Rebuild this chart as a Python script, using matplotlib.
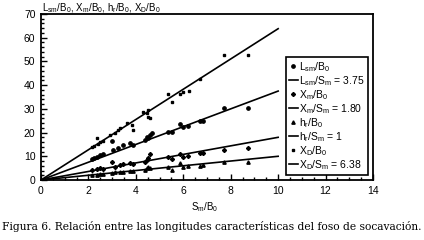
import matplotlib
matplotlib.use("Agg")
import matplotlib.pyplot as plt
import numpy as np
from matplotlib.ticker import MultipleLocator
from matplotlib.lines import Line2D

# Data
xd_x = [2.14, 2.25, 2.35, 2.40, 2.49, 2.63, 2.91, 3.12, 3.26, 3.33, 3.61, 3.83, 3.89,
        4.31, 4.46, 4.53, 4.50, 4.60, 5.37, 5.53, 5.86, 6.00, 6.23, 6.71, 7.72, 8.72]
xd_y = [14.0, 14.2, 17.6, 15.0, 16.2, 16.6, 19.0, 19.7, 21.1, 21.8, 23.9, 23.2, 21.1,
        28.8, 28.1, 29.5, 26.7, 26.0, 36.3, 33.0, 36.3, 37.1, 37.4, 42.7, 52.8, 52.8]
lsm_x = [2.14, 2.25, 2.35, 2.49, 2.63, 2.98, 3.05, 3.26, 3.47, 3.75, 3.89, 4.39, 4.46,
         4.53, 4.60, 4.67, 5.37, 5.51, 5.86, 6.00, 6.21, 6.71, 6.85, 7.72, 8.72]
lsm_y = [8.8, 9.1, 9.8, 10.5, 10.8, 16.6, 12.7, 13.4, 14.8, 15.5, 14.8, 16.9, 18.3,
         17.6, 19.0, 19.7, 20.4, 20.1, 23.6, 22.2, 22.8, 24.9, 25.0, 30.2, 30.2]
xm_x = [2.14, 2.35, 2.49, 2.63, 2.98, 3.12, 3.33, 3.47, 3.75, 3.89, 4.39, 4.46, 4.53,
        4.60, 5.37, 5.51, 5.86, 6.00, 6.21, 6.71, 6.85, 7.72, 8.72]
xm_y = [4.2, 4.5, 4.9, 4.6, 7.7, 5.6, 6.3, 6.6, 7.0, 6.8, 7.7, 8.4, 9.1,
        11.0, 9.8, 8.7, 10.8, 9.8, 10.1, 11.5, 11.5, 12.7, 13.6]
hr_x = [2.14, 2.35, 2.49, 2.63, 2.98, 3.12, 3.33, 3.47, 3.75, 3.89, 4.39, 4.46, 4.53,
        4.60, 5.37, 5.51, 5.86, 6.00, 6.21, 6.71, 6.85, 7.72, 8.72]
hr_y = [2.0, 2.3, 2.5, 2.4, 3.0, 3.2, 3.5, 3.3, 3.8, 3.9, 4.2, 4.9, 5.6,
        4.9, 5.6, 4.2, 7.0, 5.6, 5.9, 5.9, 6.3, 7.7, 7.7]
slopes = {"lsm": 3.75, "xm": 1.80, "hr": 1.0, "xd": 6.38}
line_x = [0, 10]

plt.rcParams['font.family'] = ['Liberation Sans', 'DejaVu Sans']
plt.rcParams['mathtext.fontset'] = 'custom'
plt.rcParams['mathtext.rm'] = 'Liberation Sans'
plt.rcParams['mathtext.it'] = 'Liberation Sans'
plt.rcParams['mathtext.bf'] = 'Liberation Sans:bold'

fig = plt.figure(figsize=(4.24, 2.40), dpi=100)
ax = fig.add_axes([41/424, 60/240, 332/424, 166/240])

ms = 2.4
ax.plot(lsm_x, lsm_y, 'o', color='black', ms=ms, ls='none')
ax.plot(xm_x, xm_y, 'D', color='black', ms=ms*0.85, ls='none')
ax.plot(hr_x, hr_y, '^', color='black', ms=ms, ls='none')
ax.plot(xd_x, xd_y, 's', color='black', ms=ms*0.8, ls='none')
lx = np.array(line_x, dtype=float)
for k in ["lsm", "xm", "hr", "xd"]:
    ax.plot(lx, slopes[k]*lx, '-', color='black', lw=1.2)

ax.set_xlim(0, 14)
ax.set_ylim(0, 70)
ax.xaxis.set_major_locator(MultipleLocator(2))
ax.xaxis.set_minor_locator(MultipleLocator(0.5))
ax.yaxis.set_major_locator(MultipleLocator(10))
ax.yaxis.set_minor_locator(MultipleLocator(2))
ax.tick_params(which='both', direction='in', labelsize=7.5, width=1)
ax.tick_params(which='major', length=4, pad=4)
ax.tick_params(which='minor', length=2)
for s in ax.spines.values():
    s.set_linewidth(1.3)

handles = [
    Line2D([], [], marker='o', color='black', ls='none', ms=ms),
    Line2D([], [], color='black', lw=1.2),
    Line2D([], [], marker='D', color='black', ls='none', ms=ms*0.85),
    Line2D([], [], color='black', lw=1.2),
    Line2D([], [], marker='^', color='black', ls='none', ms=ms),
    Line2D([], [], color='black', lw=1.2),
    Line2D([], [], marker='s', color='black', ls='none', ms=ms*0.8),
    Line2D([], [], color='black', lw=1.2),
]
labels = [r'L$_{sm}$/B$_0$', r'L$_{sm}$/S$_m$ = 3.75',
          r'X$_m$/B$_0$', r'X$_m$/S$_m$ = 1.80',
          r'h$_r$/B$_0$', r'h$_r$/S$_m$ = 1',
          r'X$_D$/B$_0$', r'X$_D$/S$_m$ = 6.38']
leg = ax.legend(handles, labels, loc='lower right', bbox_to_anchor=(0.985, 0.03),
                fontsize=7.5, handlelength=0.9, handletextpad=0.1, labelspacing=0.02,
                borderpad=0.3, borderaxespad=0, fancybox=False, framealpha=1,
                edgecolor='black')
leg.get_frame().set_linewidth(1.2)

fig.text(42/424, 1-8/240, r'L$_{sm}$/B$_0$, X$_m$/B$_0$, h$_r$/B$_0$, X$_D$/B$_0$',
         fontsize=7, ha='left', va='center')
fig.text(205/424, 1-207/240, r'S$_m$/B$_0$', fontsize=7, ha='center', va='center')
fig.text(212/424, 1-227/240,
         'Figura 6. Relación entre las longitudes características del foso de socavación.',
         fontsize=7.7, ha='center', va='center', family='DejaVu Serif')

fig.savefig('out.png', dpi=100)
